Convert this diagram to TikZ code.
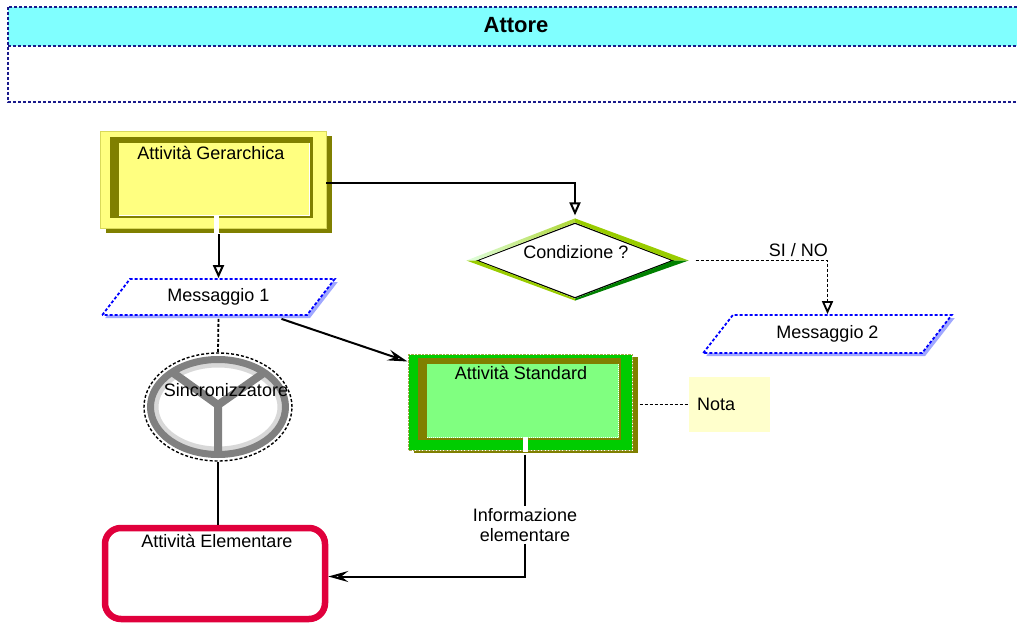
\documentclass[tikz,border=0pt]{standalone}
\usepackage{fontspec}
\setmainfont{Liberation Sans}
\usetikzlibrary{calc,arrows.meta,shapes.geometric,shadows}

\definecolor{attorecyan}{HTML}{80FFFF}
\definecolor{attoreblue}{HTML}{1A1A8C}
\definecolor{paleyellow}{HTML}{FFFF80}
\definecolor{olivebrown}{HTML}{808000}
\definecolor{brightgreen}{HTML}{00CC00}
\definecolor{palegreen}{HTML}{80FF80}
\definecolor{msgblue}{HTML}{0000FF}
\definecolor{msgshadow}{HTML}{A0A8FF}
\definecolor{notecream}{HTML}{FFFFCC}
\definecolor{elemred}{HTML}{E0003C}
\definecolor{ringgray}{HTML}{808080}
\definecolor{ringlight}{HTML}{D8D8D8}
\definecolor{condlight}{HTML}{E0FFE0}
\definecolor{condlime}{HTML}{99CC00}
\definecolor{conddark}{HTML}{008000}

\begin{document}
\begin{tikzpicture}[
        %We set the scale and define some styles
        x=1pt, y=-1pt,
        every node/.style={color=black, font=\fontsize{18}{20}\selectfont},
        flow line/.style={line width=2pt, -{Triangle[open, length=13pt, width=11pt, fill=white]}},
        side flow/.style={line width=2pt, -{Stealth[open, length=20pt, width=11pt, inset=7pt, fill=white]}},
        dashed flow/.style={densely dashed, line width=1.8pt},
        message/.style={trapezium, trapezium left angle=54, trapezium right angle=126,
            trapezium stretches=true, draw=msgblue, densely dashed, line width=1.8pt, fill=white,
            drop shadow={shadow xshift=3pt, shadow yshift=-3pt, fill=msgshadow, opacity=1}},
        box text/.style={anchor=base, inner sep=0pt}
     ]
    \clip (0,0) rectangle (1017,623);

    % Header of the actor lane
    \fill[attorecyan] (8,7) rectangle (1030,46);
    \draw[attoreblue, densely dashed, line width=2pt] (8,7) rectangle (1030,102);
    \draw[attoreblue, densely dashed, line width=2pt] (8,46) -- (1030,46);
    \node[box text, font=\bfseries\fontsize{22}{26}\selectfont] (attore) at (516,33) {Attore};

    % Hierarchical activity
    \node[minimum width=226pt, minimum height=97pt, fill=paleyellow, draw=olivebrown!30!paleyellow,
          drop shadow={shadow xshift=6pt, shadow yshift=-5pt, fill=olivebrown, opacity=1}]
          (gerarchica) at (213,179.5) {};
    \fill[olivebrown] ($(gerarchica.north west)+(10,6)$) rectangle ($(gerarchica.south east)+(-13,-10)$);
    \fill[paleyellow] ($(gerarchica.north west)+(19,12)$) rectangle ($(gerarchica.south east)+(-17,-13)$);
    \draw[white, line width=1pt] (309.5,143) -- (309.5,215.5) -- (119,215.5);
    \fill[white] (214,215) rectangle (219,233);
    \node[box text] (gerarchica text) at (211,159) {Attività Gerarchica};

    % Messages
    \node[message, minimum width=233pt, minimum height=36pt] (messaggio1) at (218.5,297) {Messaggio 1};
    \node[message, minimum width=249pt, minimum height=38pt] (messaggio2) at (827.5,334) {Messaggio 2};

    % Condition
    \node[diamond, minimum width=196pt, minimum height=75pt, inner sep=0pt, draw, line width=1.2pt, fill=white]
          (condizione) at (575,260.5) {};
    \shade[left color=condlight, right color=condlime!80!white]
        ($(condizione.west)+(-10,0)$) -- ($(condizione.north)+(0,-4)$) -- (condizione.north) -- (condizione.west) -- cycle;
    \fill[condlime] ($(condizione.north)+(0,-4)$) -- ($(condizione.east)+(15,0)$) -- (condizione.east) -- (condizione.north) -- cycle;
    \fill[conddark] ($(condizione.east)+(15,0)$) -- ($(condizione.south)+(0,2)$) -- (condizione.south) -- (condizione.east) -- cycle;
    \fill[condlime] ($(condizione.south)+(0,2)$) -- ($(condizione.west)+(-10,0)$) -- (condizione.west) -- (condizione.south) -- cycle;
    \node[box text] (condizione text) at (576,258) {Condizione ?};

    % Synchroniser
    \node[ellipse, minimum width=148pt, minimum height=108pt, draw, densely dashed, line width=1.4pt, fill=white]
          (sincro) at (218,407) {};
    \draw[ringlight, line width=5pt] (sincro.center) ellipse [x radius=62pt, y radius=42pt];
    \draw[ringgray, line width=7pt] (sincro.center) ellipse [x radius=67.5pt, y radius=47.5pt];
    \draw[ringgray, line width=8pt] (172,372) -- (218,405) -- (265,372) (218,405) -- (218,456);
    \node[box text] (sincro text) at (226,396) {Sincronizzatore};

    % Standard activity
    \node[minimum width=224pt, minimum height=96pt, fill=brightgreen, draw=white, line width=1pt,
          drop shadow={shadow xshift=6pt, shadow yshift=-3pt, fill=olivebrown, opacity=1}]
          (standard) at (520,402) {};
    \draw[olivebrown!70, densely dotted] (408,354) rectangle (632,450);
    \fill[olivebrown] ($(standard.north west)+(10,4)$) rectangle ($(standard.south east)+(-12,-11)$);
    \fill[palegreen] ($(standard.north west)+(19,10)$) rectangle ($(standard.south east)+(-14,-13)$);
    \draw[white, densely dotted, line width=1pt] (618.5,364) -- (618.5,437.5) -- (427,437.5);
    \fill[white] (522.5,437) rectangle (527.5,452);
    \node[box text] (standard text) at (521,379) {Attività Standard};

    % Note
    \node[fill=notecream, minimum height=55pt, text width=65pt, inner xsep=8pt, align=left]
          (nota) at (729.5,404.5) {Nota};

    % Elementary activity
    \node[draw=elemred, line width=6.5pt, rounded corners=16pt, minimum width=220pt, minimum height=91pt]
          (elementare) at (215,573.5) {};
    \node[box text] (elementare text) at (217,547) {Attività Elementare};

    % Information label
    \node[align=center, fill=white, inner sep=2pt] (informazione) at (525,525) {Informazione\\elementare};

    % Connectors
    \draw[flow line, shorten >=7pt] ([yshift=-3pt]gerarchica.east) -| (condizione.north);
    \draw[flow line, shorten <=6pt] (gerarchica.south -| messaggio1.north) -- (messaggio1.north);
    \draw[side flow] ($(messaggio1.bottom right corner)+(-26,3)$) -- ($(standard.north west)+(0,8)$);
    \draw[dashed flow, shorten <=3pt] (messaggio1.south) -- (sincro.north);
    \draw[line width=2pt] (sincro.south) -- (sincro.south |- elementare.north);
    \draw[dashed flow, -{Triangle[open, length=13pt, width=11pt, fill=white]}, shorten <=22pt]
        (condizione.east) -| node[pos=0.405, above] (si no) {SI / NO} (messaggio2.north);
    \draw[dashed flow, shorten <=7pt] (standard.east |- nota.west) -- (nota.west);
    \draw[line width=2pt, shorten <=4pt] (standard.south -| informazione.north) -- (informazione.north);
    \draw[side flow] (informazione.south) |- ([yshift=-3pt]elementare.east);
\end{tikzpicture}
\end{document}
